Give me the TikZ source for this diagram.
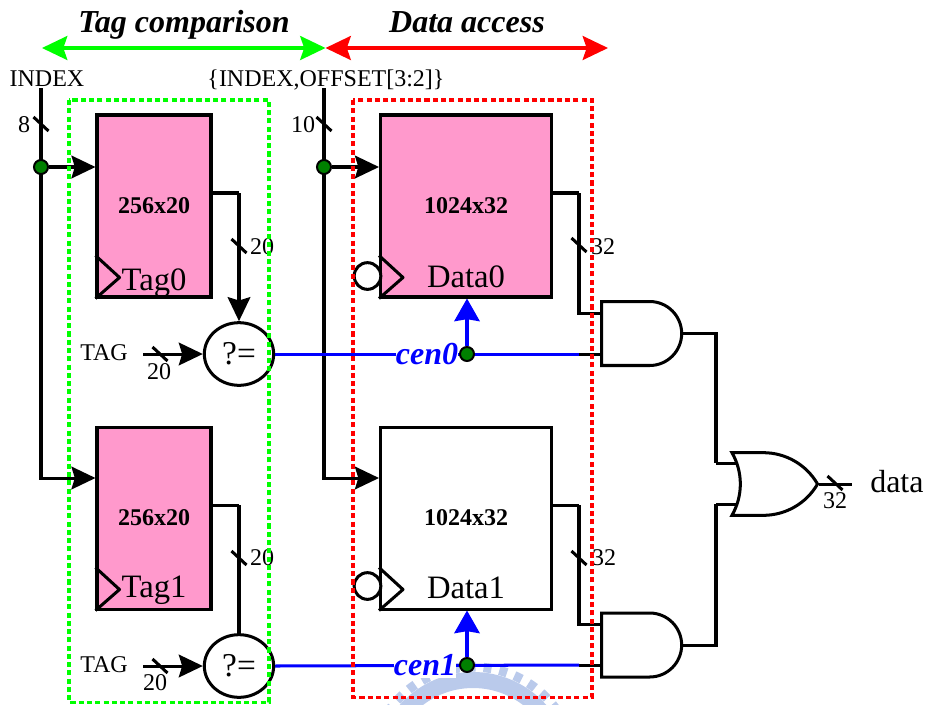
\documentclass[tikz,border=0pt]{standalone}
\usepackage{fontspec}
\setmainfont{Liberation Serif}
\usepackage{tikz}
\usetikzlibrary{arrows.meta}
\usetikzlibrary{backgrounds}
\usetikzlibrary{positioning}
\usetikzlibrary{shapes.geometric}
\usetikzlibrary{shapes.gates.logic.US}

\definecolor{sramfill}{RGB}{255,153,204}
\definecolor{dotgreen}{RGB}{0,128,0}
\definecolor{rangegreen}{RGB}{0,255,0}
\definecolor{sealblue}{RGB}{186,202,235}

\tikzset{
  sram/.style={draw,line width=2.26pt,minimum width=85.5pt,minimum height=136.5pt,inner sep=0pt,
    font=\fontsize{18}{20}\selectfont\bfseries},
  pinksram/.style={sram,fill=sramfill},
  whitesram/.style={sram,fill=white,minimum width=128.25pt},
  bignum/.style={anchor=base,inner sep=0pt,font=\fontsize{24.5}{26}\selectfont},
  wirenum/.style={inner sep=0pt,font=\fontsize{18}{20}\selectfont},
  title/.style={anchor=base,font=\fontsize{24}{26}\selectfont\bfseries\itshape},
  compare/.style={draw,ellipse,fill=white,line width=2.26pt,minimum width=52pt,minimum height=47pt,
    inner sep=0pt,font=\fontsize{25}{27}\selectfont},
  bubble/.style={draw,circle,fill=white,line width=2.26pt,minimum size=20pt,inner sep=0pt},
  junction/.style={draw,circle,fill=dotgreen,line width=1.5pt,minimum size=10.5pt,inner sep=0pt},
  gate/.style={draw,line width=2.26pt,inner sep=0pt,fill=white,logic gate inputs=nn},
  wire/.style={every edge/.append style={line width=2.26pt}},
  enablewire/.style={every edge/.append style={line width=2.26pt},blue},
  blackhead/.style={-{Stealth[length=18pt,width=17pt,inset=2.5pt]}},
  bluehead/.style={-{Stealth[length=17pt,width=19pt,inset=1.5pt]}},
  rangearrow/.style={every edge/.append style={line width=2.3pt},
    {Stealth[length=19pt,width=18pt,inset=3pt]}-{Stealth[length=19pt,width=18pt,inset=3pt]}},
  rangebox/.style={line width=2.26pt,dash pattern=on 3.8pt off 2.4pt},
  enable/.style={fill=white,inner xsep=0pt,inner ysep=1.5pt,text=blue,font=\fontsize{24}{26}\selectfont\bfseries\itshape},
  clockmark/.pic={\draw[line width=2.26pt,line join=round] (0,-43) -- (24,-21) -- (0,0);},
  bustick/.pic={\draw[line width=2.26pt] (-7.5,-7) -- (7.5,7);}
}

\begin{document}
\begin{tikzpicture}[x=.75pt,y=-.75pt,
      node distance=234pt,
      on grid]

    \useasboundingbox (0,0) rectangle (929,704);

    % memories
    \node[pinksram] (Tag0) at (154,206) {256x20};
    \node[pinksram] (Tag1) [below=of Tag0] {256x20};
    \node[pinksram,minimum width=128.25pt] (Data0) [right=of Tag0] {1024x32};
    \node[whitesram] (Data1) [below=of Data0] {1024x32};
    \node[bignum] (Tag0Name) at (154,290) {Tag0};
    \node[bignum] (Tag1Name) at (154,597) {Tag1};
    \node[bignum] (Data0Name) at (466,287) {Data0};
    \node[bignum] (Data1Name) at (466,598) {Data1};
    \path (Tag0.south west) pic {clockmark};
    \path (Tag1.south west) pic {clockmark};
    \path (Data0.south west) pic {clockmark};
    \path (Data1.south west) pic {clockmark};
    \node[bubble] (Data0Cen) at (367.5,276) {};
    \node[bubble] (Data1Cen) at (367.5,586) {};

    % comparators and gates
    \node[compare] (Compare0) [below=111pt of Tag0,xshift=63.75pt] {?=};
    \node[compare] (Compare1) [below=111pt of Tag1,xshift=63.75pt] {?=};
    \node[and gate US,gate,minimum width=60pt,minimum height=47pt] (And0) at (639,333.5) {};
    \node[and gate US,gate,minimum width=60pt,minimum height=47pt] (And1) at (639,645) {};
    \node[or gate US,gate,minimum width=63pt,minimum height=47pt] (Or0) at (768.5,484) {};

    % wire junctions
    \node[junction] (IndexDot) at (41,167) {};
    \node[junction] (OffsetDot) at (324,167) {};
    \node[junction] (Cen0Dot) at (467,354) {};
    \node[junction] (Cen1Dot) at (467,665) {};
    \coordinate (IndexTop) at (41,88);
    \coordinate (OffsetTop) at (324,88);
    \coordinate (Tag0Bus) at (239,193);
    \coordinate (Tag1Bus) at (239,505);
    \coordinate (Data0Bus) at (579,193);
    \coordinate (Data1Bus) at (579,505);
    \coordinate (And0Top) at (602,313);
    \coordinate (And0Low) at (602,354);
    \coordinate (And1Top) at (602,624);
    \coordinate (And1Low) at (602,665);
    \coordinate (OrBus0) at (716,463);
    \coordinate (OrBus1) at (716,504);
    \coordinate (OrTop) at (740,463);
    \coordinate (OrLow) at (740,504);
    \coordinate (DataEnd) at (852,484);
    \coordinate (Tag0In) at (143,354);
    \coordinate (Tag1In) at (143,666);
    \coordinate (RangeLeft) at (42,48);
    \coordinate (RangeMid) at (325.5,48);
    \coordinate (RangeRight) at (608,48);

    % texts
    \node[title] (TagTitle) at (184,32) {Tag comparison};
    \node[title] (DataTitle) at (467,32) {Data access};
    \node[wirenum,anchor=base] (IndexName) at (47,86) {INDEX};
    \node[wirenum,anchor=base] (OffsetName) at (326,86) {\{INDEX,OFFSET[3:2]\}};
    \node[wirenum] (Width8) at (24,125) {8};
    \node[wirenum] (Width10) at (303,125) {10};
    \node[wirenum] (Width20a) at (262,247) {20};
    \node[wirenum] (Width20b) at (262,558) {20};
    \node[wirenum] (Width32a) at (603,247) {32};
    \node[wirenum] (Width32b) at (604,558) {32};
    \node[wirenum] (Width20c) at (159,372) {20};
    \node[wirenum] (Width20d) at (155,683) {20};
    \node[wirenum] (Width32c) at (835,501) {32};
    \node[wirenum,anchor=base] (Tag0Name2) at (104,360) {TAG};
    \node[wirenum,anchor=base] (Tag1Name2) at (104,672) {TAG};
    \node[anchor=base west,inner sep=0pt,font=\fontsize{24}{26}\selectfont] (DataName) at (870,492) {data};
    \node[enable] (Cen0) at (427,354) {cen0};
    \node[enable] (Cen1) at (425,665) {cen1};

    \foreach \tickx/\ticky in {41/124,324/124,239/246,239/558,579/245,579/558,160/354,160/666,835/483}
      \path (\tickx,\ticky) pic {bustick};

    \begin{scope}[on background layer]
      % seal behind the lower edge
      \draw[sealblue,line width=12pt] (473,770) circle[radius=90];
      \draw[sealblue,line width=7pt,dash pattern=on 6pt off 6pt] (473,770) circle[radius=103];

      \path[wire,blackhead]
        (IndexDot) edge (IndexDot -| Tag0.west)
        (OffsetDot) edge (OffsetDot -| Data0.west)
        (IndexTop) edge[to path={|- (\tikztotarget)}] ([yshift=30pt]Tag1.west)
        (OffsetTop) edge[to path={|- (\tikztotarget)}] ([yshift=30pt]Data1.west)
        (Tag0In) edge (Tag0In -| Compare0.west)
        (Tag1In) edge (Tag1In -| Compare1.west)
        (Tag0Bus) edge (Compare0.north);
      \path[wire]
        (Tag0Bus -| Tag0.east) edge (Tag0Bus)
        (Tag1Bus -| Tag1.east) edge (Tag1Bus)
        (Tag1Bus) edge (Compare1.north)
        (Data0Bus -| Data0.east) edge (Data0Bus)
        (Data1Bus -| Data1.east) edge (Data1Bus)
        (Data0Bus) edge[to path={|- (\tikztotarget)}] (And0Top)
        (Data1Bus) edge[to path={|- (\tikztotarget)}] (And1Top)
        (And0Low -| Data0Bus) edge (And0Low)
        (And1Low -| Data1Bus) edge (And1Low)
        (And0.east) edge[to path={-| (\tikztotarget)}] (OrBus0)
        (And1.east) edge[to path={-| (\tikztotarget)}] (OrBus1)
        (OrBus0) edge (OrTop)
        (OrBus1) edge (OrLow)
        (Or0.output) edge (DataEnd);
      \path[enablewire]
        (Compare0.east) edge (And0Low -| Data0Bus)
        (Compare1.east) edge (And1Low -| Data1Bus);
      \path[enablewire,bluehead]
        (Cen0Dot) edge (Data0.south -| Cen0Dot)
        (Cen1Dot) edge (Data1.south -| Cen1Dot);
      \path[rangearrow,rangegreen]
        (RangeLeft) edge (RangeMid);
      \path[rangearrow,red]
        (RangeMid) edge (RangeRight);
    \end{scope}

    \draw[rangebox,rangegreen] (69,100) rectangle (269,702);
    \draw[rangebox,red] (353,100) rectangle (592,697);

  \end{tikzpicture}
\end{document}
